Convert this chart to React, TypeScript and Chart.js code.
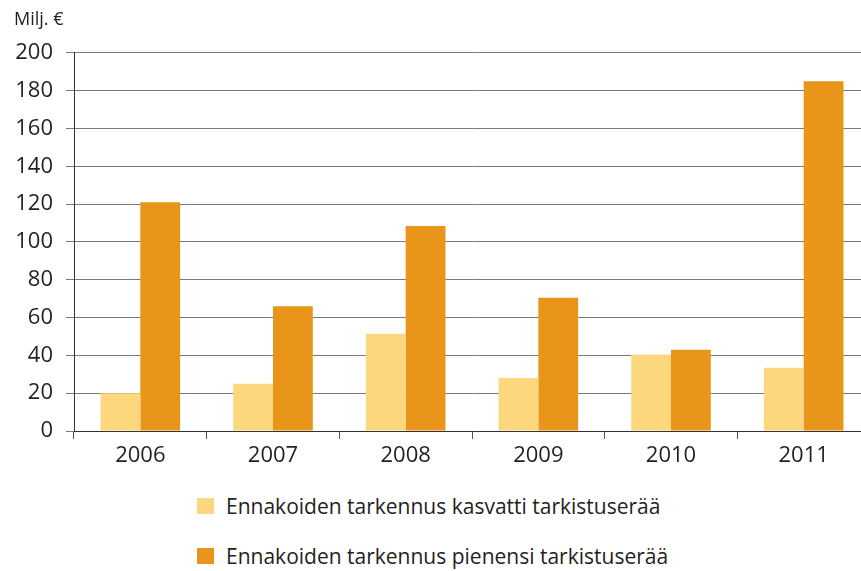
import React, { useEffect, useRef } from 'react';
import { Chart, registerables } from 'chart.js';

Chart.register(...registerables);

const years = ['2006', '2007', '2008', '2009', '2010', '2011'];
const kasvatti = [20, 25, 51.5, 28, 40.5, 33.5];
const pienensi = [121, 66, 108.5, 70.5, 43, 185];
const seriesNames = [
  'Ennakoiden tarkennus kasvatti tarkistuserää',
  'Ennakoiden tarkennus pienensi tarkistuserää',
];
const seriesColors = ['#FCD77E', '#E8951A'];
const unitLabel = 'Milj. €';
const yMin = 0;
const yMax = 200;
const yStep = 20;

const FONT = '"Open Sans", "Noto Sans", sans-serif';
const TEXT = '#231f20';

export default function App() {
  const ref = useRef<HTMLCanvasElement | null>(null);

  useEffect(() => {
    if (!ref.current) return;
    const chart = new Chart(ref.current, {
      type: 'bar',
      data: {
        labels: years,
        datasets: [
          { label: seriesNames[0], data: kasvatti, backgroundColor: seriesColors[0], borderWidth: 0 },
          { label: seriesNames[1], data: pienensi, backgroundColor: seriesColors[1], borderWidth: 0 },
        ],
      },
      options: {
        responsive: false,
        animation: false,
        devicePixelRatio: 1,
        layout: { padding: { left: 14, right: 10, top: 8, bottom: 0 } },
        datasets: { bar: { categoryPercentage: 0.6, barPercentage: 1 } },
        plugins: {
          legend: { display: false },
          tooltip: { enabled: false },
          title: {
            display: true,
            text: unitLabel,
            align: 'start',
            color: TEXT,
            font: { family: FONT, size: 18, weight: 'normal', lineHeight: 1.333 },
            padding: { top: 0, bottom: 21 },
          },
        },
        scales: {
          x: {
            afterFit: (s: any) => { s.height = 49; },
            grid: {
              offset: true,
              drawOnChartArea: false,
              tickLength: 8,
              color: '#555',
              lineWidth: 1,
            },
            border: { display: true, color: '#333', width: 1 },
            ticks: { color: TEXT, font: { family: FONT, size: 22 }, padding: 4, maxRotation: 0 },
          },
          y: {
            min: yMin,
            max: yMax,
            afterFit: (s: any) => { s.width = 60; },
            grid: { color: '#7a7a7a', lineWidth: 1, tickLength: 8 },
            border: { display: true, color: '#333', width: 1 },
            ticks: { stepSize: yStep, color: TEXT, font: { family: FONT, size: 22 }, padding: 13 },
          },
        },
      },
    });
    return () => chart.destroy();
  }, []);

  const legendRow = (i: number, top: number) => (
    <div key={i} style={{ position: 'absolute', left: 197, top, height: 24, display: 'flex', alignItems: 'center' }}>
      <div style={{ width: 17, height: 16, background: seriesColors[i], marginRight: 12 }} />
      <span style={{ fontFamily: FONT, fontSize: 21, color: TEXT, lineHeight: '24px', whiteSpace: 'nowrap' }}>{seriesNames[i]}</span>
    </div>
  );

  return (
    <div style={{ position: 'absolute', left: 0, top: 0, width: 861, height: 571, overflow: 'hidden', background: '#fff' }}>
      <canvas ref={ref} width={880} height={480} style={{ position: 'absolute', left: 0, top: 0, width: 880, height: 480 }} />
      {legendRow(0, 494)}
      {legendRow(1, 544)}
    </div>
  );
}
